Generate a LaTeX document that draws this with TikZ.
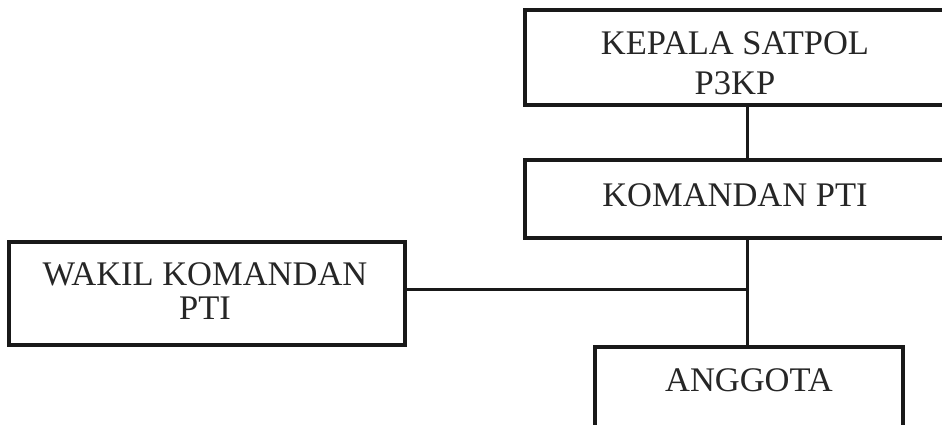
\documentclass[tikz,border=0pt]{standalone}
\usepackage{fontspec}
\setmainfont{Liberation Serif}
\begin{document}
\begin{tikzpicture}[x=1pt,y=-1pt,
  orgbox/.style={draw=black!90, line width=3.8pt, rectangle, inner sep=0pt},
  orgtext/.style={align=center, inner sep=0pt, text=black!85, font=\fontsize{34.5}{#1}\selectfont},
  orgtext/.default=40,
  link/.style={draw=black!90, line width=3pt}]
\useasboundingbox (0,0) rectangle (942,424);
\clip (0,0) rectangle (942,424);
\fill[white] (0,0) rectangle (942,424);
\node[orgbox, minimum width=444pt, minimum height=95pt,
  label={[orgtext=40, yshift=-5.5pt, xshift=-12pt]center:KEPALA SATPOL\\P3KP}] (kepala) at (747,57.5) {};
\node[orgbox, minimum width=444pt, minimum height=78pt,
  label={[orgtext, yshift=4pt, xshift=-12pt]center:KOMANDAN PTI}] (komandan) at (747,199) {};
\node[orgbox, minimum width=396pt, minimum height=103pt,
  label={[orgtext=34, yshift=2pt, xshift=-2pt]center:WAKIL KOMANDAN\\PTI}] (wakil) at (207,293.5) {};
\node[orgbox, minimum width=308pt, minimum height=100pt,
  label={[orgtext, yshift=17pt]center:ANGGOTA}] (anggota) at (749,397) {};
\coordinate (j) at (747,289);
\draw[link] (kepala.south -| j) -- (komandan.north -| j);
\draw[link] (komandan.south -| j) -- (anggota.north -| j);
\draw[link] (wakil.east |- j) -- (j);
\end{tikzpicture}
\end{document}
